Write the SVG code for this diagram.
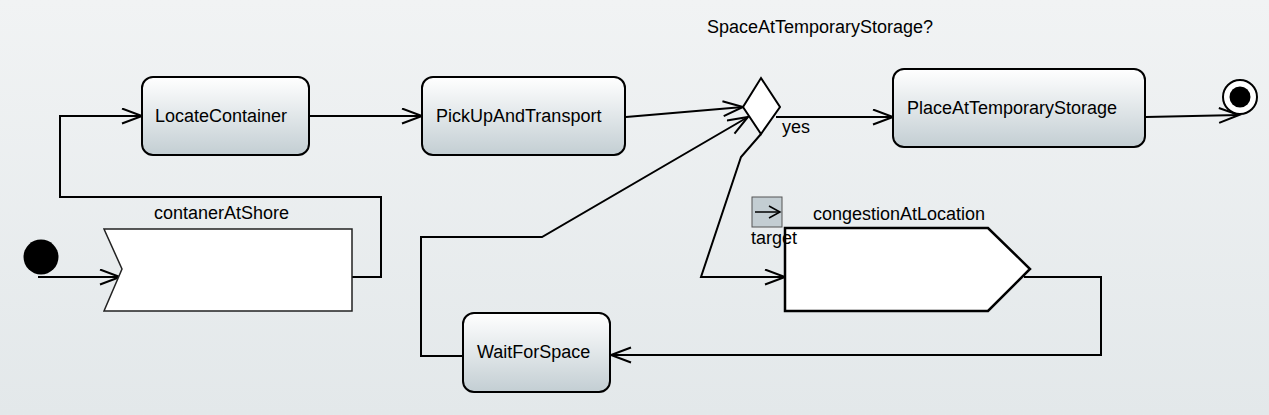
<svg xmlns="http://www.w3.org/2000/svg" width="1269" height="415" viewBox="0 0 1269 415">
<defs>
<linearGradient id="bg" x1="0" y1="0" x2="0" y2="1"><stop offset="0" stop-color="#f1f3f4"/><stop offset="1" stop-color="#e3e8ea"/></linearGradient>
<linearGradient id="box" x1="0" y1="0" x2="0" y2="1"><stop offset="0" stop-color="#ffffff"/><stop offset="1" stop-color="#c3ced3"/></linearGradient>
<marker id="arr" markerUnits="userSpaceOnUse" markerWidth="24" markerHeight="20" refX="21" refY="8.5" orient="auto"><path d="M1,1 L21,8.5 L1,16" fill="none" stroke="#000" stroke-width="2"/></marker>
<marker id="arrs" markerUnits="userSpaceOnUse" markerWidth="14" markerHeight="16" refX="12" refY="7" orient="auto"><path d="M1,1 L12,7 L1,13" fill="none" stroke="#000" stroke-width="1.5"/></marker>
</defs>
<style>
.act{fill:url(#box);stroke:#000;stroke-width:2}
.t{font-family:"Liberation Sans",Arial,sans-serif;font-size:18px;fill:#000}
.c{fill:none;stroke:#000;stroke-width:2;marker-end:url(#arr)}
</style>
<rect width="1269" height="415" fill="url(#bg)"/>
<g id="connectors">
<path class="c" d="M38,277 L120,277"/>
<path class="c" d="M352,277 L381,277 L381,197 L60,197 L60,116 L142,116"/>
<path class="c" d="M309,116 L422,116"/>
<path class="c" d="M626,117 L743,107"/>
<path class="c" d="M776,117 L893,117"/>
<path class="c" d="M1146,117 L1239,115"/>
<path class="c" d="M761,134 L741,157 L701,277 L785,277"/>
<path class="c" d="M1024,277 L1101,277 L1101,355 L611,355"/>
<path class="c" d="M463,356 L421,356 L421,237 L542,237 L748,117"/>
</g>
<g id="initial"><circle cx="41" cy="257" r="17.5" fill="#000"/></g>
<g id="contanerAtShore">
<polygon points="104,229 352,229 352,311 104,311 122,269" fill="#fff" stroke="#222" stroke-width="1.5"/>
<text class="t" x="154" y="219">contanerAtShore</text>
</g>
<g id="LocateContainer">
<rect class="act" x="142" y="77" width="167" height="78" rx="11"/>
<text class="t" x="155" y="122">LocateContainer</text>
</g>
<g id="PickUpAndTransport">
<rect class="act" x="422" y="77" width="203" height="78" rx="11"/>
<text class="t" x="436" y="122">PickUpAndTransport</text>
</g>
<g id="decision">
<polygon points="761,78 780,107 761,134 743,107" fill="#fff" stroke="#000" stroke-width="2"/>
<text class="t" x="707" y="33">SpaceAtTemporaryStorage?</text>
<text class="t" x="782" y="133">yes</text>
</g>
<g id="PlaceAtTemporaryStorage">
<rect class="act" x="893" y="69" width="252" height="78" rx="11"/>
<text class="t" x="907" y="114">PlaceAtTemporaryStorage</text>
</g>
<g id="final">
<circle cx="1240" cy="97" r="17" fill="#fff" stroke="#000" stroke-width="2"/>
<circle cx="1240" cy="97" r="10.5" fill="#000"/>
</g>
<g id="congestionAtLocation">
<polygon points="785,228 988,228 1030,269 988,311 785,311" fill="#fff" stroke="#000" stroke-width="2.5"/>
<text class="t" x="813" y="220">congestionAtLocation</text>
</g>
<g id="target">
<rect x="752" y="197" width="30" height="30" fill="#c3cdd2" stroke="#555" stroke-width="1"/>
<path d="M755,212 L780,212" fill="none" stroke="#000" stroke-width="1.5" marker-end="url(#arrs)"/>
<text class="t" x="751" y="244">target</text>
</g>
<g id="WaitForSpace">
<rect class="act" x="463" y="313" width="147" height="79" rx="11"/>
<text class="t" x="477" y="358">WaitForSpace</text>
</g>
</svg>
